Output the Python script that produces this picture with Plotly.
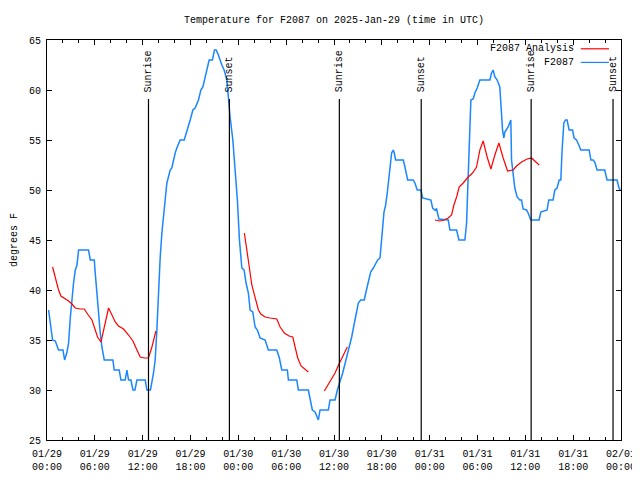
import plotly.graph_objects as go

# hours since 2025-01-29 00:00 UTC
obs_hours = [0.20, 0.41, 0.70, 1.04, 1.45, 2.00, 2.21, 2.51, 2.71, 2.92, 3.13, 3.33, 3.55, 3.76, 3.96,
             5.21, 5.43, 5.93, 6.05, 6.27, 6.47, 6.68, 6.89, 7.18, 8.27, 8.43, 9.06, 9.27, 9.81, 10.02,
             10.23, 10.53, 10.78, 11.03, 11.28, 12.32, 12.53, 12.98, 13.36, 13.57, 13.78, 13.98, 14.20,
             14.41, 14.61, 14.82, 15.04, 15.24, 15.45, 15.66, 15.86, 16.08, 16.29, 16.70, 17.21, 17.54,
             17.96, 18.30, 18.58, 19.00, 19.30, 19.55, 19.84, 20.05, 20.34, 20.75, 21.00, 21.22, 21.50,
             21.93, 22.22, 22.56, 22.76, 22.97, 23.31, 23.60, 23.88, 24.14, 24.44, 24.72, 24.97, 25.26,
             25.48, 25.81, 26.10, 26.39, 26.73, 27.36, 27.77, 28.82, 29.15, 29.45, 30.15, 30.28, 31.33,
             31.53, 32.78, 33.08, 33.28, 33.62, 34.04, 34.25, 35.29, 35.50, 36.13, 36.42, 36.75, 37.09,
             37.59, 38.22, 38.63, 38.85, 39.05, 39.35, 39.80, 40.01, 40.30, 40.60, 40.93, 41.27, 41.48,
             41.77, 41.98, 42.11, 42.27, 42.48, 42.68, 42.89, 43.11, 43.23, 43.43, 43.56, 43.73, 44.69,
             44.90, 45.11, 45.24, 45.94, 46.15, 46.44, 46.90, 47.12, 48.16, 48.37, 48.66, 48.87, 49.16,
             50.33, 50.54, 51.38, 51.67, 52.42, 52.63, 52.76, 52.96, 53.17, 53.46, 53.67, 53.96, 54.30,
             54.51, 55.55, 55.76, 55.96, 56.18, 56.47, 56.80, 57.02, 57.14, 57.31, 57.43, 57.84, 58.18,
             58.27, 58.47, 58.68, 58.97, 59.31, 59.52, 59.72, 60.15, 60.35, 60.69, 61.73, 61.94, 62.73,
             62.94, 63.48, 63.70, 63.98, 64.24, 64.45, 64.61, 64.83, 65.04, 65.24, 65.49, 65.92, 66.12,
             66.42, 66.71, 66.96, 68.01, 68.22, 68.50, 68.71, 69.00, 69.96, 70.25, 71.50, 71.75, 71.90]
obs_temps = [38.0, 36.5, 35.0, 34.9, 34.0, 34.0, 33.0, 33.8, 34.7, 37.2, 39.5, 40.7, 42.0, 42.5, 44.0,
             44.0, 43.0, 43.0, 41.7, 39.3, 37.7, 35.7, 34.3, 33.0, 33.0, 32.0, 32.0, 31.0, 31.0, 32.0,
             31.0, 31.0, 30.0, 30.0, 31.0, 31.0, 30.0, 30.0, 31.7, 33.0, 36.0, 40.3, 43.3,
             45.7, 47.7, 49.0, 50.7, 51.3, 52.0, 52.2, 53.0, 53.7, 54.2, 55.0, 55.0, 56.0,
             57.0, 58.0, 58.2, 59.0, 60.0, 60.3, 61.3, 62.3, 63.0, 63.0, 64.0, 64.0, 63.5,
             62.5, 62.0, 61.0, 59.0, 57.3, 55.0, 52.3, 49.0, 45.0, 42.2, 42.0, 40.7, 39.7,
             38.0, 37.8, 36.3, 36.0, 35.2, 35.0, 34.0, 34.0, 33.2, 32.0, 32.0, 31.0, 31.0,
             30.0, 30.0, 28.8, 28.0, 27.8, 27.0, 28.0, 28.0, 29.0, 29.0, 30.0, 30.8, 31.7,
             33.3, 35.3, 37.0, 38.0, 38.7, 39.0, 39.0, 39.8, 40.7, 41.8, 42.2, 42.7, 43.0,
             43.2, 44.7, 46.3, 47.8, 48.5, 49.7, 51.3, 52.7, 53.7, 54.0, 53.7, 53.0, 53.0,
             52.3, 51.3, 51.0, 51.0, 50.7, 50.0, 50.0, 49.2, 49.0, 48.2, 48.0, 48.1, 47.1,
             47.0, 46.0, 46.0, 45.0, 45.0, 46.7, 49.7, 55.0, 59.0, 59.1, 59.7, 60.2, 61.0,
             61.0, 61.0, 61.7, 62.0, 61.3, 61.0, 60.3, 56.7, 56.0, 55.2, 55.8, 56.3, 57.0,
             53.0, 51.7, 50.2, 49.3, 49.0, 49.0, 48.1, 48.0, 47.7, 47.0, 47.0, 47.8, 48.0,
             49.0, 49.0, 50.0, 50.2, 51.0, 51.0, 54.0, 56.7, 57.0, 57.0, 56.0, 56.0, 55.2,
             55.0, 54.5, 54.0, 54.0, 53.0, 53.0, 52.8, 52.0, 52.0, 51.0, 51.0, 50.2, 50.0]

# analysis series (None = gap)
ana_hours = [0.70, 1.13, 1.45, 1.75, 2.17, 2.71, 3.13, 3.55, 4.17, 4.67, 5.09, 5.64, 5.93, 6.34, 6.77,
             7.09, 7.43, 7.72, 8.15, 8.56, 8.97, 9.60, 10.23, 10.78, 11.28, 11.69, 12.23, 12.73, 13.16,
             13.66, 14.0,
             24.76, 25.06, 25.39, 25.69, 26.10, 26.52, 26.82, 27.36, 27.98, 28.82, 29.24, 29.77, 30.36,
             30.83, 31.12, 31.45, 31.87, 32.37, 32.78, 33.5,
             34.79, 35.50, 36.13, 36.63, 37.17, 37.67, 40.0,
             48.66, 49.29, 49.82, 50.33, 50.75, 51.04, 51.38, 51.70, 52.21, 52.83, 53.38, 53.88, 54.30,
             54.71, 55.21, 55.68, 56.18, 56.68, 57.22, 57.77, 58.47, 58.90, 59.52, 60.23, 60.78, 61.28,
             61.73]
ana_temps = [42.3, 41.0, 40.0, 39.4, 39.2, 38.9, 38.6, 38.2, 38.1, 38.1, 37.6, 37.0, 36.3, 35.3, 34.8,
             36.0, 37.2, 38.2, 37.5, 36.8, 36.4, 36.1, 35.5, 34.9, 34.0, 33.3, 33.2, 33.2, 34.3,
             35.9, None,
             45.7, 43.8, 42.2, 40.5, 39.2, 38.0, 37.6, 37.3, 37.2, 37.1, 36.3, 35.7, 35.4,
             35.3, 34.3, 33.2, 32.4, 32.1, 31.8, None,
             29.9, 30.8, 31.7, 32.6, 33.5, 34.3, None,
             47.0, 46.9, 47.0, 47.2, 47.5, 48.5, 49.3, 50.3, 50.7, 51.3, 51.7, 52.3, 54.0,
             54.9, 53.3, 52.1, 53.5, 54.7, 53.2, 51.9, 52.0, 52.4, 52.8, 53.1, 53.2, 52.8,
             52.5]

sun_labels = ["Sunrise", "Sunset", "Sunrise", "Sunset", "Sunrise", "Sunset"]
sun_hours = [12.73, 22.88, 36.67, 46.94, 60.73, 71.0]
sun_top = 59.1

tick_hours = [0, 6, 12, 18, 24, 30, 36, 42, 48, 54, 60, 66, 72]
tick_text = ["01/29<br>00:00", "01/29<br>06:00", "01/29<br>12:00", "01/29<br>18:00",
             "01/30<br>00:00", "01/30<br>06:00", "01/30<br>12:00", "01/30<br>18:00",
             "01/31<br>00:00", "01/31<br>06:00", "01/31<br>12:00", "01/31<br>18:00",
             "02/01<br>00:00"]

RED = "#ff0000"
BLUE = "#1a86ff"
FONT = "Liberation Mono"
FS = 10

# the page places the figure 8px from the top-left corner
W, H = 632, 472

fig = go.Figure()
fig.add_trace(go.Scatter(x=obs_hours, y=obs_temps, mode="lines", name="F2087",
                         line=dict(color=BLUE, width=1.5), showlegend=False))
fig.add_trace(go.Scatter(x=ana_hours, y=ana_temps, mode="lines", name="F2087 Analysis",
                         line=dict(color=RED, width=1.2), connectgaps=False, showlegend=False))

for lab, h in zip(sun_labels, sun_hours):
    fig.add_shape(type="line", x0=h, x1=h, y0=25, y1=sun_top, xref="x", yref="y",
                  line=dict(color="black", width=1.2))
    fig.add_annotation(x=h, y=sun_top, xref="x", yref="y", text=lab, textangle=-90,
                       showarrow=False, xanchor="center", yanchor="bottom", yshift=5,
                       font=dict(family=FONT, size=FS, color="black"))

# custom legend (text right-aligned, sample on the right)
legend_items = [("F2087 Analysis", RED, 0.978), ("F2087", BLUE, 0.944)]
for name, col, yy in legend_items:
    fig.add_annotation(x=0.921, y=yy, xref="paper", yref="paper", text=name, showarrow=False,
                       xanchor="right", yanchor="middle", font=dict(family=FONT, size=FS, color="black"))
    fig.add_shape(type="line", x0=0.930, x1=0.979, y0=yy, y1=yy, xref="paper", yref="paper",
                  line=dict(color=col, width=1.2))

fig.add_annotation(x=-0.0575, y=0.5, xref="paper", yref="paper", text="degrees F", textangle=-90,
                   showarrow=False, xanchor="center", yanchor="middle",
                   font=dict(family=FONT, size=FS, color="black"))

fig.update_layout(
    width=W, height=H,
    margin=dict(l=39, r=19, t=32, b=40, pad=0, autoexpand=False),
    paper_bgcolor="white", plot_bgcolor="white",
    font=dict(family=FONT, size=FS, color="black"),
    title=dict(text="Temperature for F2087 on 2025-Jan-29 (time in UTC)", x=0.5, xref="paper",
               xanchor="center", y=1 - 11 / H, yanchor="middle", yref="container",
               font=dict(family=FONT, size=FS, color="black")),
    showlegend=False,
)
fig.update_xaxes(range=[0, 72], tickvals=tick_hours, ticktext=tick_text, ticks="inside", ticklen=5,
                 tickcolor="black", showline=True, linecolor="black", linewidth=1, mirror="ticks",
                 showgrid=False, zeroline=False, automargin=False, ticklabelstandoff=4,
                 tickfont=dict(family=FONT, size=FS, color="black"),
                 minor=dict(dtick=2, tick0=0, ticks="inside", ticklen=3, tickcolor="black", showgrid=False))
fig.update_yaxes(range=[25, 65], dtick=5, tick0=25, ticks="inside", ticklen=5, tickcolor="black",
                 showline=True, linecolor="black", linewidth=1, mirror="ticks",
                 showgrid=False, zeroline=False, automargin=False, ticklabelstandoff=3,
                 tickfont=dict(family=FONT, size=FS, color="black"))

fig.write_html("out.html")
